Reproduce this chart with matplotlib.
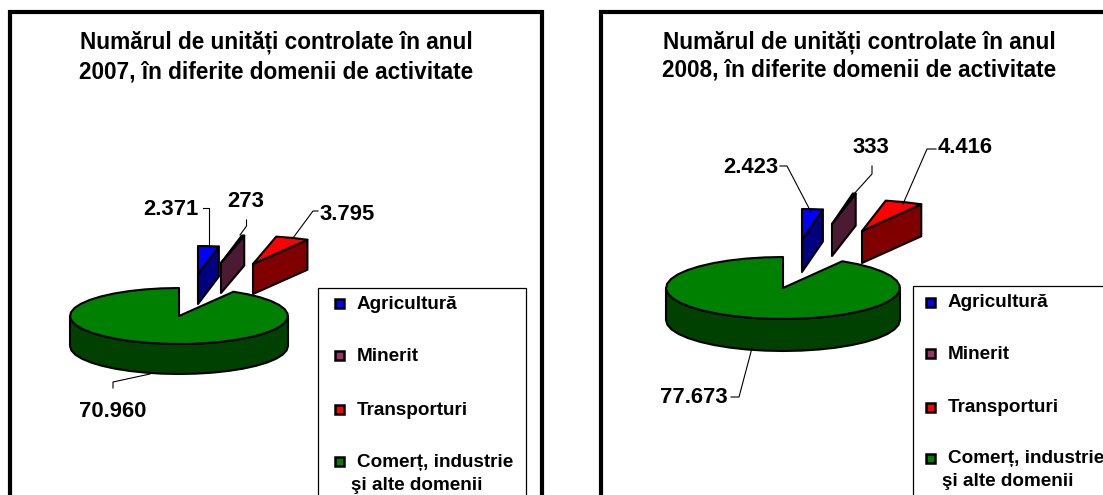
import numpy as np
import matplotlib
matplotlib.use('Agg')
import matplotlib.pyplot as plt
from matplotlib.patches import Polygon, Rectangle

plt.rcParams['font.family'] = ['Liberation Sans', 'DejaVu Sans']
plt.rcParams['font.weight'] = 'bold'

categorii = ['Agricultură', 'Minerit', 'Transporturi', 'Comerț, industrie\nşi alte domenii']
valori_2007 = [2371, 273, 3795, 70960]
valori_2008 = [2423, 333, 4416, 77673]
titlu_2007 = 'Numărul de unități controlate în anul\n2007, în diferite domenii de activitate'
titlu_2008 = 'Numărul de unități controlate în anul\n2008, în diferite domenii de activitate'

culori = ['#0000FF', '#993366', '#FF0000', '#008000']
culori_umbra = ['#000080', '#4D1A33', '#800000', '#004000']

fig = plt.figure(figsize=(11.03, 4.95), dpi=100)
ax = fig.add_axes([0, 0, 1, 1])
ax.set_xlim(0, 1103)
ax.set_ylim(495, 0)
ax.axis('off')


def punct(c, r, unghi):
    # unghi in grade, de la ora 12 in sensul acelor de ceas
    t = np.radians(unghi)
    return c[0] + r[0] * np.sin(t), c[1] - r[1] * np.cos(t)


def felie(c, r, a0, a1, adanc, fata, umbra):
    pas = max(2, int((a1 - a0) / 9))
    ung = np.linspace(a0, a1, pas + 1)
    xs, ys = punct(c, r, ung)
    # peretele lateral
    if a1 - a0 > 180:
        u = np.linspace(90, 270, 21)
        xf, yf = punct(c, r, u)
        perete = np.r_[np.c_[xf, yf], np.c_[xf[::-1], yf[::-1] + adanc]]
    else:
        xe, ye = punct(c, r, a1)
        perete = [(c[0], c[1]), (xe, ye), (xe, ye + adanc), (c[0], c[1] + adanc)]
    ax.add_patch(Polygon(perete, closed=True, fc=umbra, ec='black', lw=1.5, joinstyle='round', zorder=3))
    top = np.r_[[c], np.c_[xs, ys]]
    ax.add_patch(Polygon(top, closed=True, fc=fata, ec='black', lw=1.5, joinstyle='round', zorder=4))


def placinta(valori, c, r, adanc, decalaje):
    fr = np.array(valori) / np.sum(valori) * 360
    a0 = 0
    for i, v in enumerate(fr):
        centru = (c[0] + decalaje[i][0], c[1] + decalaje[i][1])
        felie(centru, r, a0, a0 + v, adanc, culori[i], culori_umbra[i])
        a0 += v


def eticheta(v):
    return f'{v:,}'.replace(',', '.')


def linie(puncte):
    xs, ys = zip(*puncte)
    ax.plot(xs, ys, color='black', lw=0.8, zorder=5)


def legenda(x0, y0, x1, xm, xt, xt2, ym, yb, y2):
    ax.add_patch(Rectangle((x0 + 1, y0 + 1), x1 - x0, 500 - y0, fc='#909090', ec='none', zorder=1))
    ax.add_patch(Rectangle((x0, y0), x1 - x0, 500 - y0, fc='white', ec='black', lw=0.9, zorder=2))
    for i, cat in enumerate(categorii):
        ax.add_patch(Rectangle((xm - 4.5, ym[i] - 4.5), 9, 9, fc=culori[i], ec='black', lw=1.8, zorder=3))
        rand = cat.split('\n')
        ax.text(xt, yb[i], rand[0], fontsize=13.6, va='baseline', ha='left', zorder=3)
        if len(rand) > 1:
            ax.text(xt2, y2, rand[1], fontsize=13.6, va='baseline', ha='left', zorder=3)


# ramele celor doua panouri
ax.add_patch(Rectangle((9.5, 11.5), 532.5, 500, fc='white', ec='black', lw=3, zorder=0))
ax.add_patch(Rectangle((601, 11.5), 600, 500, fc='white', ec='black', lw=3, zorder=0))

ax.text(276, 48, titlu_2007.split('\n')[0], fontsize=16.3, ha='center', va='baseline')
ax.text(276, 78, titlu_2007.split('\n')[1], fontsize=16.3, ha='center', va='baseline')
ax.text(859, 49, titlu_2008.split('\n')[0], fontsize=16.3, ha='center', va='baseline')
ax.text(859, 77, titlu_2008.split('\n')[1], fontsize=16.3, ha='center', va='baseline')

placinta(valori_2007, (179, 316), (109, 28), 30, [(19, -42), (42, -53), (74, -52), (0, 0)])
placinta(valori_2008, (783, 288), (117, 31), 32, [(19, -48), (49, -64), (79, -57), (0, 0)])

et = dict(fontsize=15.8, va='baseline', zorder=6)
ax.text(198, 215, eticheta(valori_2007[0]), ha='right', **et)
ax.text(246, 207, eticheta(valori_2007[1]), ha='center', **et)
ax.text(320, 220, eticheta(valori_2007[2]), ha='left', **et)
ax.text(79, 417, eticheta(valori_2007[3]), ha='left', **et)
ax.text(778, 173, eticheta(valori_2008[0]), ha='right', **et)
ax.text(871, 153, eticheta(valori_2008[1]), ha='center', **et)
ax.text(938, 153, eticheta(valori_2008[2]), ha='left', **et)
ax.text(728, 403, eticheta(valori_2008[3]), ha='right', **et)

linie([(203, 208), (208.5, 208), (208.5, 246)])
linie([(246.5, 220), (246.5, 226), (240, 235)])
linie([(318, 211), (313, 211), (293, 238)])
linie([(113, 388), (113, 382), (150, 374)])
linie([(780, 166), (787, 166), (811, 212)])
linie([(872, 166), (872, 174), (853, 195)])
linie([(936, 149), (927, 149), (903, 204)])
linie([(731, 397), (739, 397), (752, 348)])

legenda(318, 288, 526, 339, 357, 351, [303, 355, 409, 461], [309, 361, 415, 467], 490)
legenda(913, 286, 1200, 930, 948, 942, [302, 353, 407, 458], [307, 359, 412, 463], 486)

fig.savefig('out.png', dpi=100)
